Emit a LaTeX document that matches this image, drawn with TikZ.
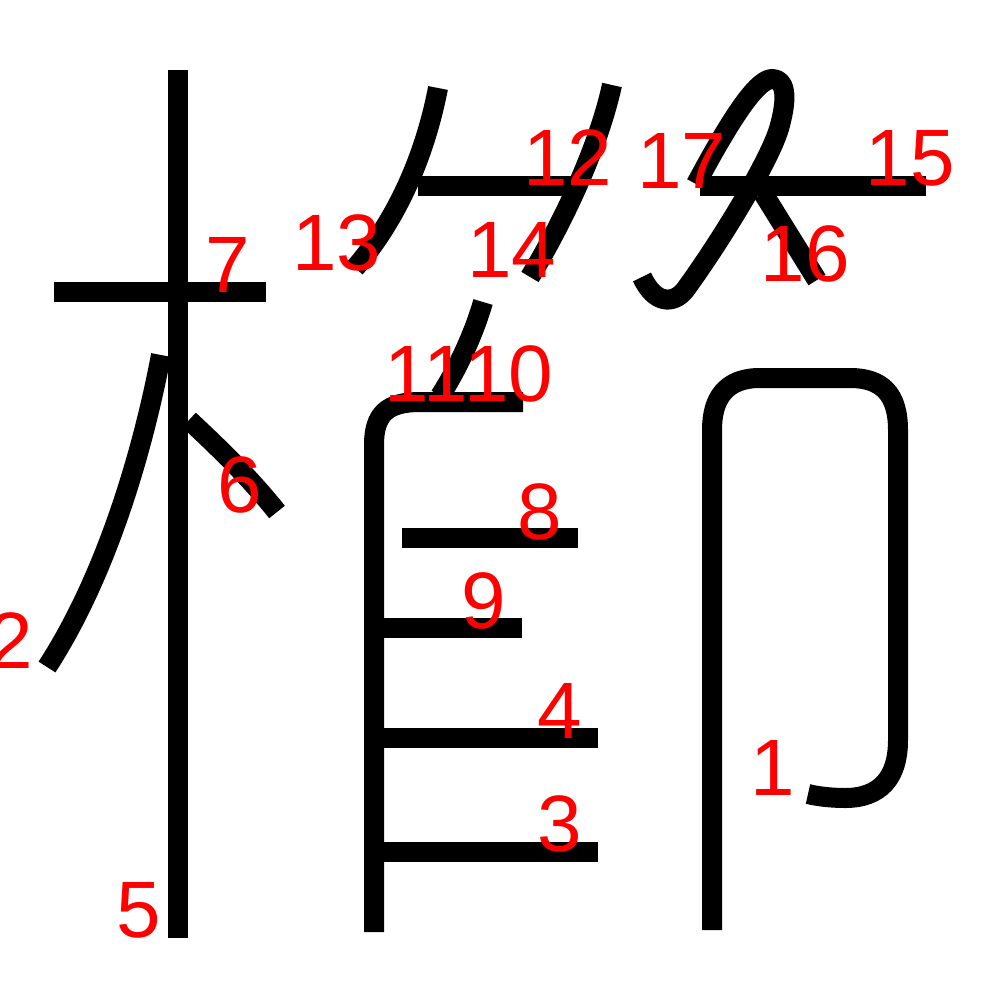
\documentclass[tikz,border=0pt]{standalone}
\usepackage{fontspec}
\setmainfont{Liberation Sans}
\begin{document}
\begin{tikzpicture}[x=1pt,y=-1pt,
  stroke/.style={draw=black, line width=20pt, line cap=butt, line join=round},
  num/.style={text=red, font=\fontsize{80}{80}\selectfont, inner sep=0pt, anchor=base}]
\fill[white] (0,0) rectangle (1000,1000);
\useasboundingbox (0,0) rectangle (1000,1000);
% stroke 1 (right frame)
\draw[stroke] (712,930) -- (712,430) .. controls (712,398) and (726,378) .. (760,378) -- (850,378)
  .. controls (882,378) and (898,394) .. (898,430) -- (898,740)
  .. controls (898,778) and (880,798) .. (845,798) .. controls (835,798) and (820,797) .. (808,794);
% stroke 2
\draw[stroke] (161,355) .. controls (145,440) and (110,570) .. (47,667);
% ladder
\draw[stroke] (374,932) -- (374,445) .. controls (374,414) and (387,402) .. (420,402) -- (523,402);
\draw[stroke] (483,302) .. controls (475,330) and (460,365) .. (440,396);
\draw[stroke] (402,538) -- (578,538);
\draw[stroke] (374,628) -- (522,628);
\draw[stroke] (374,738) -- (598,738);
\draw[stroke] (374,852) -- (598,852);
% 木
\draw[stroke] (178,70) -- (178,938);
\draw[stroke] (54,292) -- (266,292);
\draw[stroke] (189,420) .. controls (218,447) and (250,478) .. (277,512);
% 竹 left
\draw[stroke] (438,88) .. controls (428,140) and (405,210) .. (355,268);
\draw[stroke] (418,186) -- (583,186);
\draw[stroke] (612,85) .. controls (600,140) and (570,210) .. (530,277);
% 竹 right
\draw[stroke] (696,184) .. controls (725,130) and (755,79) .. (772,79)
  .. controls (785,79) and (788,95) .. (780,125)
  .. controls (772,158) and (718,245) .. (685,290)
  .. controls (674,304) and (655,305) .. (642,277);
\draw[stroke] (700,186) -- (926,186);
\draw[stroke] (763,193) -- (817,280);
% labels
\node[num] (n1) at (773,795) {1};
\node[num] (n2) at (11,668) {2};
\node[num] (n3) at (560,851) {3};
\node[num] (n4) at (560,738) {4};
\node[num] (n5) at (139,937) {5};
\node[num] (n6) at (240,512) {6};
\node[num] (n7) at (228,292) {7};
\node[num] (n8) at (540,539) {8};
\node[num] (n9) at (484,628) {9};
\node[num] (n10) at (509,401) {10};
\node[num] (n11) at (426,401) {11};
\node[num] (n12) at (568,186) {12};
\node[num] (n13) at (337,270) {13};
\node[num] (n14) at (512,277) {14};
\node[num] (n15) at (910,186) {15};
\node[num] (n16) at (805,281) {16};
\node[num] (n17) at (682,189) {17};
\end{tikzpicture}
\end{document}
